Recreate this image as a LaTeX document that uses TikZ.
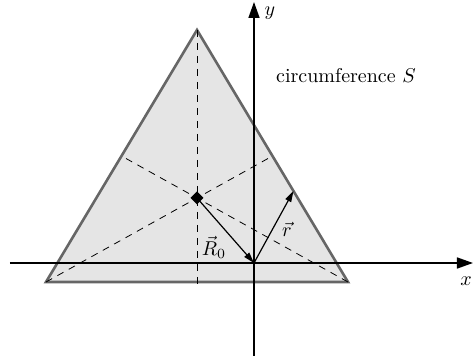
\documentclass[tikz,border=0pt]{standalone}
\usetikzlibrary{arrows.meta}
\begin{document}
\begin{tikzpicture}[x=0.5pt,y=-0.5pt,
  axis/.style={line width=0.75pt,-{Triangle[length=8pt,width=5.5pt]}},
  vec/.style={line width=0.6pt,-{Triangle[length=5.5pt,width=3.2pt]}},
  guide/.style={line width=0.4pt,dash pattern=on 3.5pt off 3pt},
  tri/.style={fill=black!10,draw=black!60,line width=1.3pt,line join=miter},
  lbl/.style={inner sep=1pt}]
\useasboundingbox (0,0) rectangle (473,363);
\coordinate (A) at (197,30);
\coordinate (B) at (46,282);
\coordinate (C) at (348,282);
\coordinate (G) at (197,198);
\coordinate (O) at (254,263);
\coordinate (P) at (293.5,191);
\coordinate (MR) at (272.5,156);
\coordinate (ML) at (121.5,156);
\coordinate (VB) at (197,288);
\coordinate (XL) at (10,263);
\coordinate (XR) at (473,263);
\coordinate (YB) at (254,356);
\coordinate (YT) at (254,2);
\draw[tri] (A) -- (B) -- (C) -- cycle;
\draw[guide] (A) -- (VB);
\draw[guide] (B) -- (MR);
\draw[guide] (C) -- (ML);
\draw[axis] (XL) -- (XR);
\draw[axis] (YB) -- (YT);
\fill (197,191.5) -- (203.5,198) -- (197,204.5) -- (190.5,198) -- cycle;
\draw[vec] (G) -- (O);
\draw[vec] (O) -- (P);
\node[lbl] (R0) at (214,247) {$\vec R_0$};
\node[lbl] (rl) at (287,229) {$\vec r$};
\node[lbl] (yl) at (270,13) {$y$};
\node[lbl] (xl) at (466,281) {$x$};
\node[lbl] (cs) at (346,76) {circumference $S$};
\end{tikzpicture}
\end{document}
